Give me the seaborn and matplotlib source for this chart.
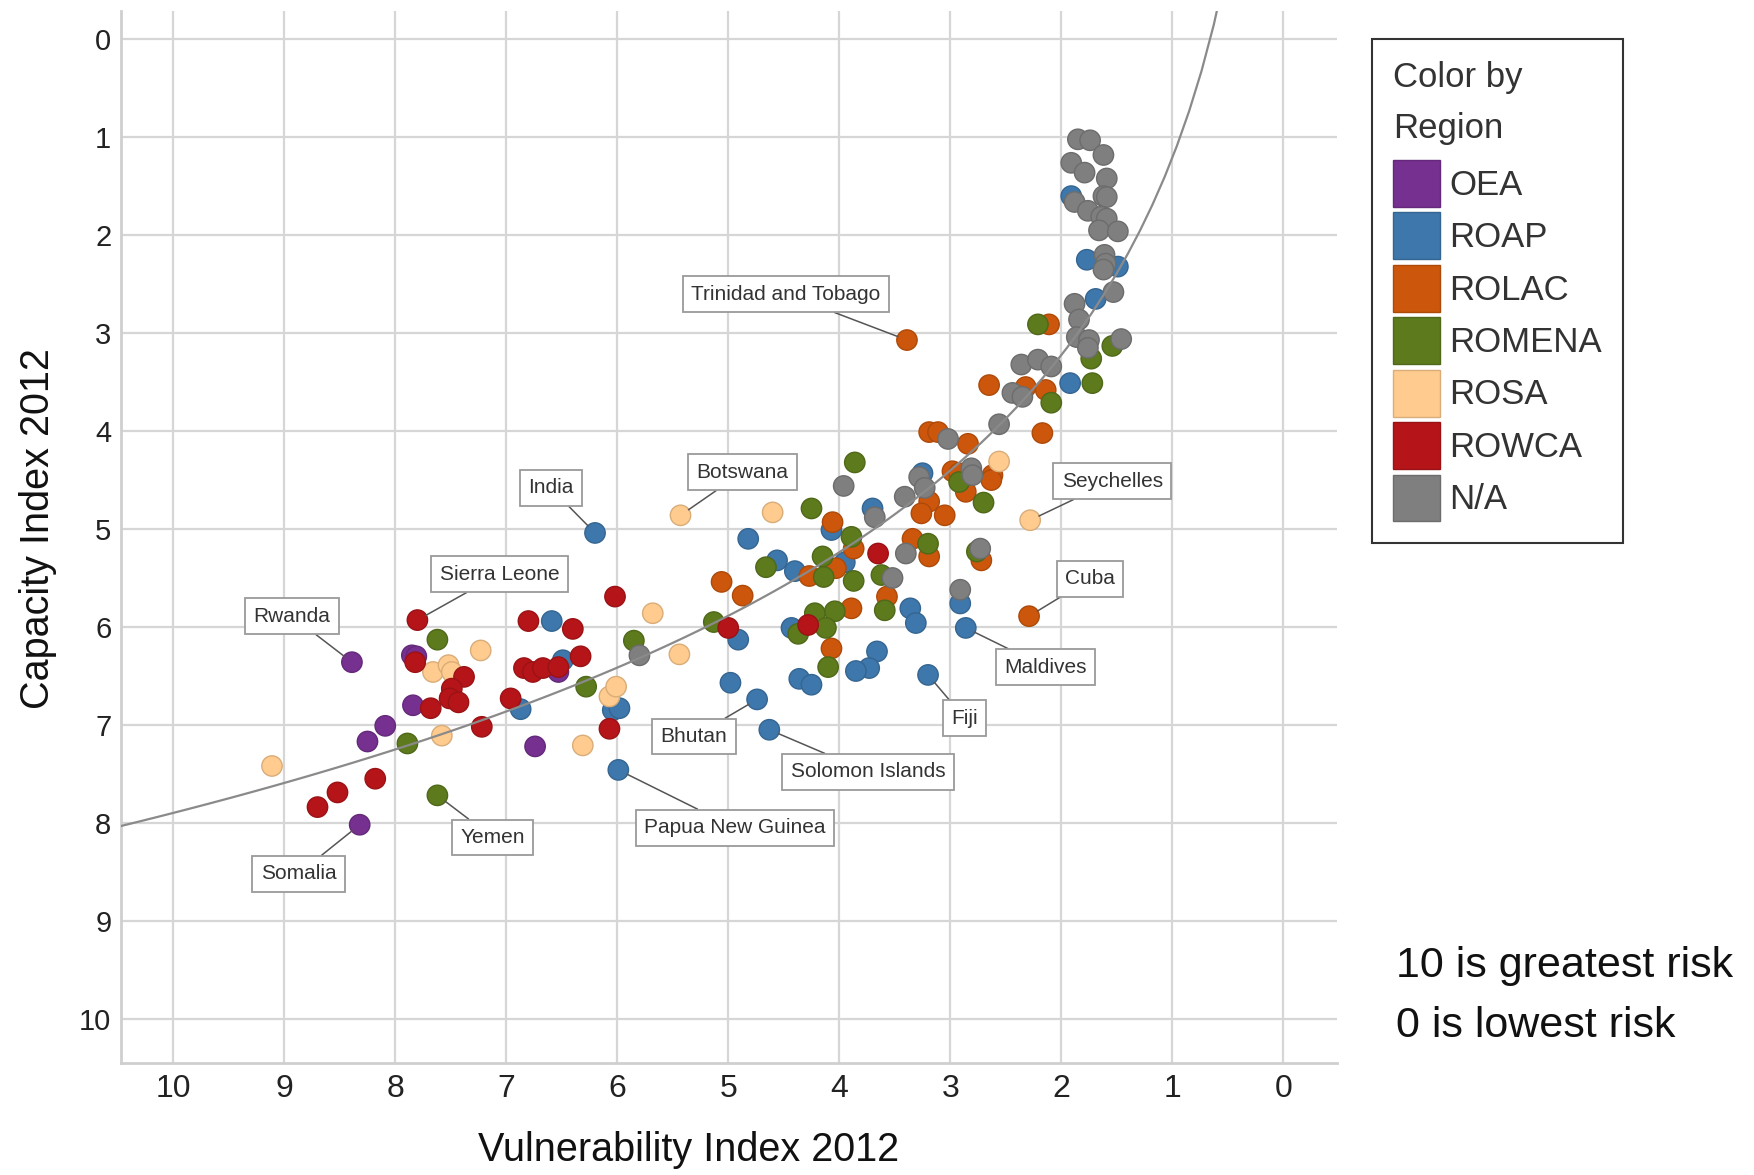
import warnings

import matplotlib
matplotlib.use("Agg")
import matplotlib.pyplot as plt
import matplotlib.colors as mcolors
import numpy as np
import pandas as pd
import seaborn as sns
from matplotlib.patches import Patch

warnings.filterwarnings("ignore")

# regions and colours
regions = ["OEA", "ROAP", "ROLAC", "ROMENA", "ROSA", "ROWCA", "N/A"]
region_colors = ["#76308f", "#3e77ab", "#cc570c", "#5d7a1d", "#ffcb8e", "#b51519", "#7f7f7f"]

# vulnerability / capacity per region
oea_vuln = [8.39, 7.85, 7.81, 7.84, 8.09, 8.25, 8.32, 6.53, 6.74]
oea_cap = [6.36, 6.29, 6.30, 6.80, 7.01, 7.17, 8.02, 6.46, 7.22]

roap_vuln = [6.59, 6.49, 6.87, 6.04, 5.98, 5.99, 6.20, 4.07, 4.82, 4.56, 4.40, 4.91, 4.98,
             4.74, 4.63, 4.36, 4.25, 3.70, 3.25, 3.95, 3.36, 3.31, 2.91, 2.86, 4.43, 3.66,
             3.73, 3.85, 3.20, 1.92, 1.91, 1.77, 1.49, 1.69]
roap_cap = [5.94, 6.34, 6.84, 6.85, 6.83, 7.46, 5.04, 5.01, 5.10, 5.32, 5.43, 6.13, 6.57,
            6.74, 7.05, 6.53, 6.59, 4.79, 4.43, 5.34, 5.81, 5.96, 5.76, 6.01, 6.01, 6.25,
            6.42, 6.45, 6.49, 3.51, 1.60, 2.25, 2.32, 2.65]

rolac_vuln = [3.39, 4.06, 5.06, 4.87, 3.19, 3.26, 3.05, 2.98, 2.92, 2.86, 3.87, 3.34, 3.19,
              4.03, 4.27, 3.57, 3.89, 4.07, 2.72, 2.29, 2.65, 2.32, 2.14, 2.17, 3.19, 3.11,
              2.84, 2.62, 2.63, 2.11]
rolac_cap = [3.07, 4.93, 5.54, 5.68, 4.72, 4.84, 4.86, 4.41, 4.43, 4.62, 5.20, 5.10, 5.28,
             5.40, 5.48, 5.69, 5.81, 6.22, 5.32, 5.89, 3.53, 3.55, 3.58, 4.02, 4.01, 4.01,
             4.13, 4.45, 4.50, 2.91]

romena_vuln = [7.62, 7.89, 7.62, 6.28, 5.85, 5.13, 4.25, 4.66, 3.86, 2.92, 3.89, 3.20, 4.15,
               4.14, 3.87, 3.62, 3.59, 4.04, 4.22, 4.12, 4.37, 4.10, 2.76, 1.73, 1.72, 2.09,
               2.70, 2.21, 1.54]
romena_cap = [6.13, 7.19, 7.72, 6.61, 6.14, 5.95, 4.79, 5.39, 4.32, 4.52, 5.08, 5.15, 5.28,
              5.49, 5.53, 5.47, 5.83, 5.84, 5.86, 6.01, 6.07, 6.41, 5.23, 3.26, 3.51, 3.71,
              4.73, 2.91, 3.13]

rosa_vuln = [7.23, 7.66, 7.52, 7.49, 7.58, 9.11, 6.31, 6.07, 6.01, 5.43, 4.60, 5.68, 5.44,
             2.56, 2.28]
rosa_cap = [6.24, 6.46, 6.39, 6.46, 7.11, 7.42, 7.21, 6.71, 6.61, 4.86, 4.83, 5.86, 6.28,
            4.31, 4.91]

rowca_vuln = [7.80, 7.82, 7.38, 7.49, 7.51, 7.43, 7.68, 7.22, 8.18, 8.52, 8.70, 6.80, 6.40,
              6.33, 6.84, 6.76, 6.67, 6.53, 6.96, 6.07, 6.02, 5.00, 3.65, 4.28]
rowca_cap = [5.93, 6.36, 6.51, 6.63, 6.73, 6.77, 6.83, 7.02, 7.55, 7.69, 7.84, 5.94, 6.02,
             6.30, 6.42, 6.46, 6.42, 6.41, 6.73, 7.04, 5.69, 6.01, 5.25, 5.98]

na_vuln = [5.80, 3.96, 3.68, 3.41, 3.28, 3.23, 2.81, 2.80, 3.40, 3.52, 2.91, 2.73, 2.36, 2.21,
           2.09, 2.44, 2.35, 2.56, 3.02, 1.85, 1.74, 1.62, 1.91, 1.79, 1.59, 1.88, 1.62, 1.59,
           1.76, 1.64, 1.59, 1.66, 1.49, 1.61, 1.60, 1.62, 1.53, 1.88, 1.84, 1.86, 1.75, 1.76,
           1.46]
na_cap = [6.29, 4.56, 4.88, 4.67, 4.47, 4.58, 4.38, 4.45, 5.25, 5.50, 5.62, 5.20, 3.32, 3.27,
          3.34, 3.61, 3.65, 3.93, 4.08, 1.02, 1.03, 1.18, 1.26, 1.36, 1.42, 1.66, 1.60, 1.61,
          1.75, 1.81, 1.83, 1.95, 1.96, 2.20, 2.29, 2.35, 2.58, 2.70, 2.86, 3.04, 3.07, 3.15,
          3.06]

# labelled countries
label_names = ["Trinidad and Tobago", "India", "Botswana", "Seychelles", "Sierra Leone",
               "Rwanda", "Cuba", "Maldives", "Fiji", "Bhutan", "Solomon Islands",
               "Papua New Guinea", "Yemen", "Somalia"]
label_vuln = [3.39, 6.20, 5.43, 2.28, 7.80, 8.39, 2.29, 2.86, 3.20, 4.74, 4.63, 5.99, 7.62, 8.32]
label_cap = [3.07, 5.04, 4.86, 4.91, 5.93, 6.36, 5.89, 6.01, 6.49, 6.74, 7.05, 7.46, 7.72, 8.02]

ticks = list(range(0, 11))

frames = []
for name, v, c in [("OEA", oea_vuln, oea_cap), ("ROAP", roap_vuln, roap_cap),
                   ("ROLAC", rolac_vuln, rolac_cap), ("ROMENA", romena_vuln, romena_cap),
                   ("ROSA", rosa_vuln, rosa_cap), ("ROWCA", rowca_vuln, rowca_cap),
                   ("N/A", na_vuln, na_cap)]:
    frames.append(pd.DataFrame({"vulnerability": v, "capacity": c, "region": name}))
df = pd.concat(frames, ignore_index=True)

# slightly darker outline for each marker
edge_map = {r: tuple(np.array(mcolors.to_rgb(c)) * 0.85) for r, c in zip(regions, region_colors)}
edge_colors = [edge_map[r] for r in df["region"]]

sns.set_style("white")
plt.rcParams["font.family"] = ["Liberation Sans", "DejaVu Sans"]

fig = plt.figure(figsize=(17.54, 11.75), dpi=100)
ax = fig.add_axes([0.069, 0.0956, 0.693, 0.895])

ax.set_xlim(10.47, -0.48)
ax.set_ylim(10.45, -0.29)

sns.scatterplot(data=df, x="vulnerability", y="capacity", hue="region", hue_order=regions,
                palette=region_colors, s=215, edgecolor=edge_colors, linewidth=1.0,
                alpha=1, legend=False, zorder=3, ax=ax)

# logarithmic trend line
sns.regplot(data=df, x="vulnerability", y="capacity", logx=True, scatter=False, ci=None,
            truncate=False, color="#8a8a8a", line_kws={"lw": 1.6, "zorder": 4}, ax=ax)

ax.set_xlim(10.47, -0.48)
ax.set_ylim(10.45, -0.29)
ax.set_xticks(ticks)
ax.set_yticks(ticks)
ax.grid(True, color="#d6d6d6", lw=1.6)
ax.set_axisbelow(True)
for s in ["top", "right"]:
    ax.spines[s].set_visible(False)
for s in ["left", "bottom"]:
    ax.spines[s].set_color("#cfcfcf")
    ax.spines[s].set_linewidth(2)
ax.tick_params(axis="x", length=0, pad=8, labelsize=23, labelcolor="#222222")
ax.tick_params(axis="y", length=0, pad=7, labelsize=21, labelcolor="#222222")
ax.set_xlabel("Vulnerability Index 2012", fontsize=28.5, labelpad=19.5, color="#111111")
ax.set_ylabel("Capacity Index 2012", fontsize=28.5, labelpad=16, color="#111111")
ax.xaxis.label.set_x(0.467)
ax.yaxis.label.set_y(0.508)

# annotation boxes
label_boxes = {
    "Trinidad and Tobago": (4.48, 2.60),
    "India": (6.60, 4.58),
    "Botswana": (4.87, 4.42),
    "Seychelles": (1.54, 4.51),
    "Sierra Leone": (7.06, 5.46),
    "Rwanda": (8.93, 5.89),
    "Cuba": (1.74, 5.51),
    "Maldives": (2.14, 6.41),
    "Fiji": (2.87, 6.93),
    "Bhutan": (5.31, 7.12),
    "Solomon Islands": (3.74, 7.48),
    "Papua New Guinea": (4.94, 8.05),
    "Yemen": (7.12, 8.15),
    "Somalia": (8.87, 8.52),
}
for name, v, c in zip(label_names, label_vuln, label_cap):
    ax.annotate(name, xy=(v, c), xytext=label_boxes[name], textcoords="data",
                ha="center", va="center", fontsize=15, color="#333333", zorder=6,
                bbox=dict(boxstyle="square,pad=0.4", fc="white", ec="#9a9a9a", lw=1.3),
                arrowprops=dict(arrowstyle="-", color="#555555", lw=1.1,
                                shrinkA=0, shrinkB=7))

handles = [Patch(facecolor=col, edgecolor=edge_map[r], label=r)
           for r, col in zip(regions, region_colors)]
leg = fig.legend(handles=handles, title="Color by\nRegion", loc="upper left",
                 bbox_to_anchor=(0.782, 0.9668), borderaxespad=0, fontsize=25,
                 title_fontsize=25, handlelength=1.35, handleheight=1.7,
                 labelspacing=0.16, handletextpad=0.26, borderpad=0.62, frameon=True,
                 fancybox=False, alignment="left")
leg.get_frame().set_edgecolor("black")
leg.get_frame().set_linewidth(1.5)
for t in leg.get_texts():
    t.set_color("#333333")
leg.get_title().set_color("#333333")
leg.get_title().set_linespacing(1.7)
# a bit more room between the title and the entries
leg._legend_box.sep = 11

fig.text(0.796, 0.152, "10 is greatest risk\n0 is lowest risk", fontsize=31,
         ha="left", va="center", linespacing=1.65, color="#111111")

fig.savefig("out.png", dpi=100)
